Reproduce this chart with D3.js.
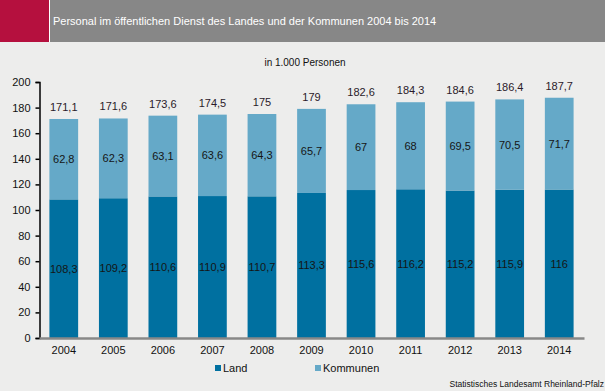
<!DOCTYPE html>
<html>
<head>
<meta charset="utf-8">
<title>Personal im öffentlichen Dienst</title>
<script src="https://cdn.jsdelivr.net/npm/d3@7"></script>
<style>
  body { margin: 0; background: #ededec; }
  svg { display: block; font-family: "Liberation Sans", Arial, sans-serif; }
</style>
</head>
<body>
<svg width="605" height="391"></svg>
<script>
var years = ["2004", "2005", "2006", "2007", "2008", "2009", "2010", "2011", "2012", "2013", "2014"];
var land = [108.3, 109.2, 110.6, 110.9, 110.7, 113.3, 115.6, 116.2, 115.2, 115.9, 116];
var kommunen = [62.8, 62.3, 63.1, 63.6, 64.3, 65.7, 67, 68, 69.5, 70.5, 71.7];
var totals = [171.1, 171.6, 173.6, 174.5, 175, 179, 182.6, 184.3, 184.6, 186.4, 187.7];
var yTicks = [0, 20, 40, 60, 80, 100, 120, 140, 160, 180, 200];

var fmt = function(v) { return String(v).replace(".", ","); };

var svg = d3.select("svg");

// header band
svg.append("rect").attr("x", 0).attr("y", 0).attr("width", 605).attr("height", 42).attr("fill", "#878787");
svg.append("rect").attr("x", 0).attr("y", 0).attr("width", 49).attr("height", 42).attr("fill", "#b5103e");
svg.append("rect").attr("x", 49).attr("y", 0).attr("width", 1).attr("height", 42).attr("fill", "#ffffff");
svg.append("text").attr("x", 53).attr("y", 25).attr("fill", "#ffffff").attr("font-size", 11)
  .text("Personal im öffentlichen Dienst des Landes und der Kommunen 2004 bis 2014");

svg.append("text").attr("x", 305).attr("y", 66).attr("text-anchor", "middle")
  .attr("font-size", 10).attr("fill", "#111").text("in 1.000 Personen");

var x = d3.scaleBand().domain(years).range([39, 584]).paddingInner(0.42).paddingOuter(0.21);
var y = d3.scaleLinear().domain([0, 200]).range([338, 82]);

// y axis
var ya = svg.append("g").attr("transform", "translate(39.5,0)")
  .call(d3.axisLeft(y).tickValues(yTicks).tickSize(4).tickPadding(5));
ya.select(".domain").attr("stroke", "#000").attr("stroke-width", 1.5);
ya.selectAll(".tick line").attr("stroke", "#000").attr("stroke-width", 1.5);
ya.selectAll("text").attr("font-size", 11).attr("fill", "#111")
  .attr("font-family", "Liberation Sans, Arial, sans-serif");

// bars
var g = svg.append("g");
g.selectAll(".land").data(years).enter().append("rect")
  .attr("x", function(d) { return x(d); })
  .attr("width", x.bandwidth())
  .attr("y", function(d, i) { return y(land[i]); })
  .attr("height", function(d, i) { return y(0) - y(land[i]); })
  .attr("fill", "#0070a0");
g.selectAll(".komm").data(years).enter().append("rect")
  .attr("x", function(d) { return x(d); })
  .attr("width", x.bandwidth())
  .attr("y", function(d, i) { return y(land[i] + kommunen[i]); })
  .attr("height", function(d, i) { return y(land[i]) - y(land[i] + kommunen[i]); })
  .attr("fill", "#65a9c8");

// value labels
var lab = svg.append("g").attr("font-size", 11).attr("text-anchor", "middle").attr("fill", "#151515");
lab.selectAll(".lv").data(years).enter().append("text")
  .attr("x", function(d) { return x(d) + x.bandwidth() / 2; })
  .attr("y", function(d, i) { return y(land[i] / 2) + 4; })
  .text(function(d, i) { return fmt(land[i]); });
lab.selectAll(".kv").data(years).enter().append("text")
  .attr("x", function(d) { return x(d) + x.bandwidth() / 2; })
  .attr("y", function(d, i) { return y(land[i] + kommunen[i] / 2) + 4; })
  .text(function(d, i) { return fmt(kommunen[i]); });
lab.selectAll(".tv").data(years).enter().append("text")
  .attr("x", function(d) { return x(d) + x.bandwidth() / 2; })
  .attr("y", function(d, i) { return y(totals[i]) - 8; })
  .attr("fill", "#2a1a2a")
  .text(function(d, i) { return fmt(totals[i]); });

// x axis
var xa = svg.append("g").attr("transform", "translate(0,338)")
  .call(d3.axisBottom(x).tickSize(0).tickPadding(8));
xa.select(".domain").attr("stroke", "#888").attr("stroke-width", 2.5);
xa.selectAll("text").attr("font-size", 11).attr("fill", "#111")
  .attr("font-family", "Liberation Sans, Arial, sans-serif");

// legend
var legend = [["Land", "#0070a0", 215], ["Kommunen", "#65a9c8", 315]];
var lg = svg.append("g");
legend.forEach(function(l) {
  lg.append("rect").attr("x", l[2]).attr("y", 365).attr("width", 6).attr("height", 6).attr("fill", l[1]);
  lg.append("text").attr("x", l[2] + 8).attr("y", 372).attr("font-size", 11).attr("fill", "#111").text(l[0]);
});

svg.append("text").attr("x", 604).attr("y", 387).attr("text-anchor", "end")
  .attr("font-size", 8.5).attr("fill", "#111").text("Statistisches Landesamt Rheinland-Pfalz");
</script>
</body>
</html>
